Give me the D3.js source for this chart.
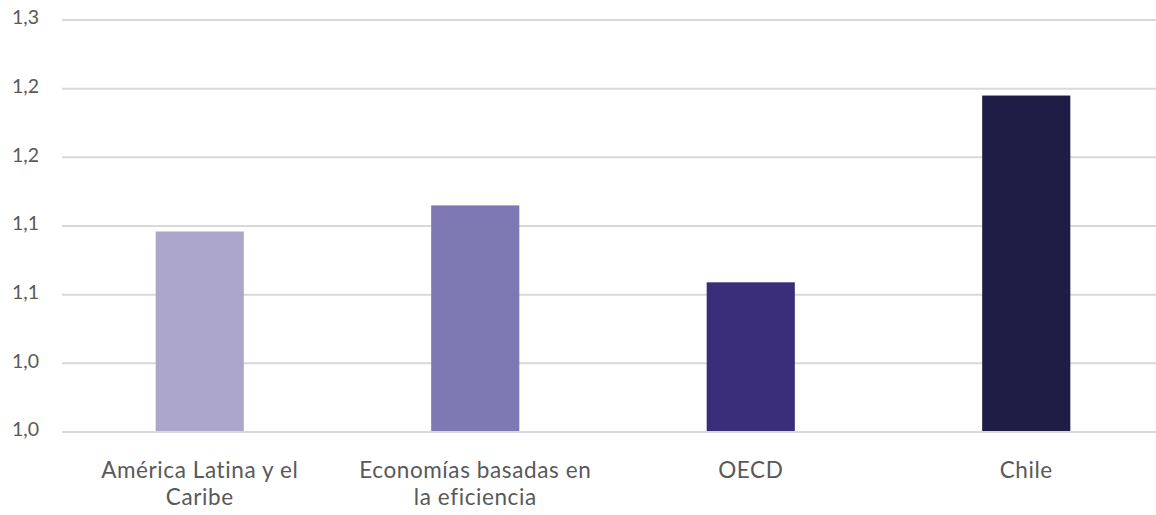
<!DOCTYPE html>
<html>
<head>
<meta charset="utf-8">
<script src="https://cdn.jsdelivr.net/npm/d3@7"></script>
<style>
  html, body { margin: 0; padding: 0; background: #fff; }
  svg { display: block; font-family: Lato, "Open Sans", sans-serif; }
</style>
</head>
<body>
<svg id="chart" width="1156" height="515"></svg>
<script>
// Categories and values
const categories = [
  ["América Latina y el", "Caribe"],
  ["Economías basadas en", "la eficiencia"],
  ["OECD"],
  ["Chile"]
];
const values = [1.146, 1.165, 1.109, 1.245];
const barColors = ["#aca6cb", "#7f79b3", "#3a2e7a", "#1f1d45"];
const tickValues = [1.00, 1.05, 1.10, 1.15, 1.20, 1.25, 1.30];
const tickLabels = ["1,0", "1,0", "1,1", "1,1", "1,2", "1,2", "1,3"];

const svg = d3.select("#chart");
const margin = { left: 62, right: -8, top: 20, bottom: 83 };
const W = 1156, H = 515;

const x = d3.scaleBand()
  .domain(d3.range(categories.length))
  .range([margin.left, W - margin.right])
  .padding(0);

const y = d3.scaleLinear()
  .domain([1.0, 1.3])
  .range([H - margin.bottom, margin.top]);

// Gridlines
svg.append("g")
  .selectAll("line")
  .data(tickValues)
  .join("line")
  .attr("x1", margin.left)
  .attr("x2", W)
  .attr("y1", d => y(d))
  .attr("y2", d => y(d))
  .attr("stroke", "#d9d9d9")
  .attr("stroke-width", 2);

// Y axis labels
svg.append("g")
  .selectAll("text")
  .data(tickValues)
  .join("text")
  .attr("x", 39)
  .attr("y", d => y(d) - 2)
  .attr("dy", "0.32em")
  .attr("text-anchor", "end")
  .attr("font-size", 19.5)
  .attr("fill", "#595959")
  .text((d, i) => tickLabels[i]);

// Bars
const barW = x.bandwidth() * 0.32;
svg.append("g")
  .selectAll("rect")
  .data(values)
  .join("rect")
  .attr("x", (d, i) => x(i) + (x.bandwidth() - barW) / 2)
  .attr("y", d => y(d))
  .attr("width", barW)
  .attr("height", d => y(1.0) - y(d) - 1)
  .attr("fill", (d, i) => barColors[i]);

// Category labels
const labels = svg.append("g")
  .selectAll("text")
  .data(categories)
  .join("text")
  .attr("x", (d, i) => x(i) + x.bandwidth() / 2)
  .attr("y", 478)
  .attr("text-anchor", "middle")
  .attr("font-size", 22.5)
  .attr("letter-spacing", 0.6)
  .attr("fill", "#595959");

labels.selectAll("tspan")
  .data(d => d)
  .join("tspan")
  .attr("x", function () { return d3.select(this.parentNode).attr("x"); })
  .attr("dy", (d, i) => i === 0 ? 0 : 27)
  .text(d => d);
</script>
</body>
</html>
